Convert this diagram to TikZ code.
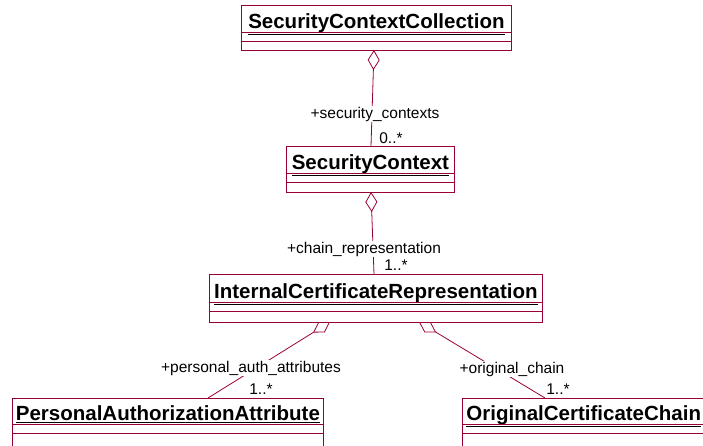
\documentclass[tikz,border=0pt]{standalone}
\usepackage{fontspec}
\setmainfont{Liberation Sans}
\usetikzlibrary{arrows.meta}

\definecolor{umlred}{RGB}{153,0,51}

\tikzset{
  classname/.style={draw=umlred, line width=0.8pt, anchor=north west,
    minimum height=27pt, inner sep=0pt, text height=23pt, text depth=4pt,
    font=\fontsize{20.5}{24}\selectfont\bfseries},
  compartment/.style={draw=umlred, line width=0.8pt},
  aggregation/.style={draw=umlred, line width=0.8pt,
    {Diamond[open,length=20pt,width=12pt]}-},
  rolename/.style={fill=white, inner sep=1pt, font=\fontsize{15.5}{18}\selectfont},
  mult/.style={fill=white, inner sep=1.5pt, font=\fontsize{15.5}{18}\selectfont},
}

\begin{document}
\begin{tikzpicture}[x=1pt,y=-1pt]
  \useasboundingbox (0,0) rectangle (703,445);
  \clip (0,0) rectangle (703,445);

  % classes
  \node[classname, minimum width=270pt] (scc) at (241,5) {\underline{SecurityContextCollection}};
  \draw[compartment] (scc.south west) rectangle ++(270,9) rectangle ++(-270,9);

  \node[classname, minimum width=168pt] (sc) at (286,146) {\underline{SecurityContext}};
  \draw[compartment] (sc.south west) rectangle ++(168,9) rectangle ++(-168,10);

  \node[classname, minimum width=333pt, minimum height=28pt, text height=24pt] (icr) at (209,274) {\underline{InternalCertificateRepresentation}};
  \draw[compartment] (icr.south west) rectangle ++(333,9) rectangle ++(-333,11);

  \node[classname, minimum width=311pt, minimum height=26pt, text height=22pt] (paa) at (12,398) {\underline{PersonalAuthorizationAttribute}};
  \draw[compartment] (paa.south west) rectangle ++(311,9) rectangle ++(-311,14);

  \node[classname, minimum width=256pt, minimum height=26pt, text height=22pt, text width=250pt, align=left] (occ) at (462,398) {\hspace{1pt}\underline{OriginalCertificateChain}};
  \draw[compartment] (occ.south west) rectangle ++(256,9) rectangle ++(-256,14);

  % connector ends
  \coordinate (scc-d) at (374,50);
  \coordinate (sc-t) at (371,146);
  \coordinate (sc-d) at (371,192);
  \coordinate (icr-t) at (374,274);
  \coordinate (icr-dl) at (330,322);
  \coordinate (paa-t) at (208,398);
  \coordinate (icr-dr) at (419,322);
  \coordinate (occ-t) at (545,398);

  % aggregations
  \draw[aggregation] (scc-d) -- (sc-t);
  \draw[aggregation] (sc-d) -- (icr-t);
  \draw[aggregation] (icr-dl) -- (paa-t);
  \draw[aggregation] (icr-dr) -- (occ-t);

  % role names and multiplicities
  \node[rolename] (r1) at (375,114) {+security\_contexts};
  \node[mult] (m1) at (391,138) {0..*};
  \node[rolename] (r2) at (364,249) {+chain\_representation};
  \node[mult] (m2) at (396,265) {1..*};
  \node[rolename] (r3) at (251,368) {+personal\_auth\_attributes};
  \node[mult] (m3) at (261,389) {1..*};
  \node[rolename] (r4) at (512,369) {+original\_chain};
  \node[mult] (m4) at (558,389) {1..*};
\end{tikzpicture}
\end{document}
